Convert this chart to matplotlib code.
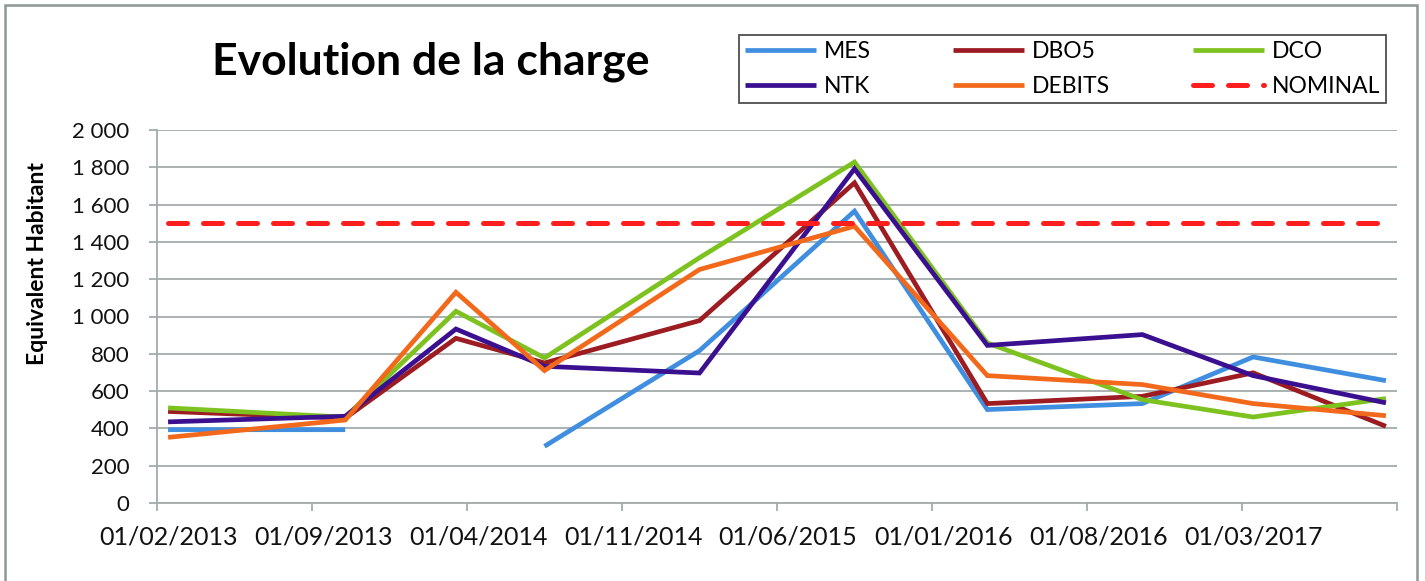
import matplotlib
matplotlib.use("Agg")
import matplotlib.pyplot as plt
from matplotlib.patches import Rectangle
import numpy as np

# ---------------- data ----------------
dates = ["2013-02", "2013-10", "2014-03", "2014-07", "2015-02",
         "2015-09", "2016-03", "2016-10", "2017-03", "2017-09"]
MES = [393, 393, np.nan, 304, 817, 1565, 501, 533, 783, 656]
DBO5 = [491, 455, 883, 751, 978, 1717, 533, 572, 698, 411]
DCO = [510, 460, 1028, 778, 1315, 1828, 858, 554, 461, 560]
NTK = [435, 465, 933, 733, 697, 1792, 845, 903, 683, 537]
DEBITS = [352, 445, 1130, 710, 1252, 1484, 683, 635, 533, 468]
NOMINAL = [1500] * len(dates)

tick_dates = ["2013-02", "2013-09", "2014-04", "2014-11", "2015-06",
              "2016-01", "2016-08", "2017-03", "2017-10"]
tick_labels = ["01/02/2013", "01/09/2013", "01/04/2014", "01/11/2014",
               "01/06/2015", "01/01/2016", "01/08/2016", "01/03/2017"]
y_ticks = [0, 200, 400, 600, 800, 1000, 1200, 1400, 1600, 1800, 2000]
y_labels = ["0", "200", "400", "600", "800", "1 000", "1 200", "1 400",
            "1 600", "1 800", "2 000"]

series_names = ["MES", "DBO5", "DCO", "NTK", "DEBITS", "NOMINAL"]
colors = ["#3F8EDF", "#9C1C22", "#7DC21F", "#3B1090", "#F2691C", "#FF1E1E"]


def month_index(s):
    y, m = s.split("-")
    return (int(y) - 2013) * 12 + (int(m) - 2)


x = np.array([month_index(d) + 0.5 for d in dates])

plt.rcParams['font.family'] = ['Lato', 'DejaVu Sans']

fig = plt.figure(figsize=(14.25, 5.81), dpi=100)
W, H = 1425, 581
ax = fig.add_axes([157 / W, 1 - 503 / H, (1397 - 157) / W, (503 - 130) / H])

grid_c = "#A3ABAB"
values = [MES, DBO5, DCO, NTK, DEBITS]
handles = []
for name, vals, c in zip(series_names[:5], values, colors[:5]):
    h, = ax.plot(x, vals, color=c, lw=3.4, solid_joinstyle='miter',
                 solid_capstyle='butt', label=name, zorder=3)
    handles.append(h)
hn, = ax.plot(x, NOMINAL, color=colors[5], lw=3.6, ls=(0, (3.8, 3.2)),
              dash_capstyle='round', label="NOMINAL", zorder=4)
handles.append(hn)

ax.set_xlim(0, month_index(tick_dates[-1]))
ax.set_ylim(0, 2000)
ax.set_yticks(y_ticks)
ax.set_yticklabels(y_labels)
ax.set_xticks([month_index(d) + 0.5 for d in tick_dates[:-1]])
ax.set_xticklabels(tick_labels)
ax.set_xticks([month_index(d) for d in tick_dates], minor=True)
ax.tick_params(axis='x', which='major', length=0, pad=16, labelsize=18,
               labelcolor='#111111')
ax.tick_params(axis='x', which='minor', length=6, width=1.3, color=grid_c)
ax.tick_params(axis='y', length=6, width=1.3, color=grid_c, pad=14,
               labelsize=16, labelcolor='#111111')

ax.grid(axis='y', color=grid_c, lw=1.3, zorder=0)
ax.set_axisbelow(True)
for s in ['top', 'right']:
    ax.spines[s].set_visible(False)
for s in ['left', 'bottom']:
    ax.spines[s].set_color(grid_c)
    ax.spines[s].set_linewidth(1.3)

fig.text(38 / W, 1 - 264 / H, "Equivalent Habitant", rotation=90,
         ha='center', va='center', fontsize=16.5, fontweight='bold')
fig.text(431 / W, 1 - 62 / H, "Evolution de la charge", ha='center',
         va='center', fontsize=32, fontweight='bold')

order = [0, 3, 1, 4, 2, 5]
leg = fig.legend([handles[i] for i in order],
                 [series_names[i] for i in order], ncol=3,
                 loc='center',
                 bbox_to_anchor=(739 / W, 1 - 104 / H, (1386 - 739) / W, 70 / H),
                 mode='expand', fontsize=16.5, handlelength=3.1,
                 handletextpad=0.35, frameon=True, fancybox=False,
                 borderaxespad=0, labelspacing=0.6, borderpad=0.25)
leg.get_frame().set_edgecolor('#222222')
leg.get_frame().set_linewidth(1.3)

fig.patches.append(Rectangle((5 / W, -0.05), (1417 - 5) / W, 1.05 - 5 / H,
                             transform=fig.transFigure, fill=False,
                             edgecolor='#8C9696', lw=1.8))

fig.savefig("out.png", dpi=100)
